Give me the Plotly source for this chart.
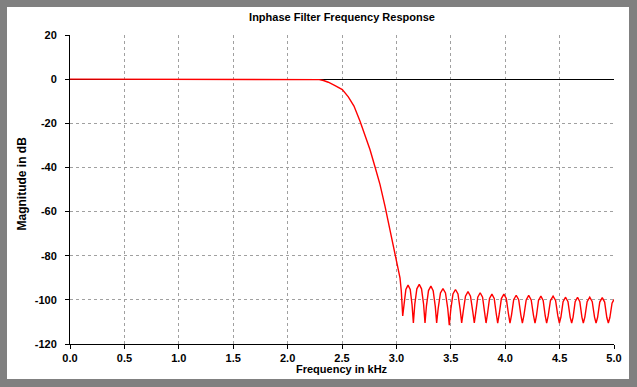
import plotly.graph_objects as go

# Passband + transition band
trans_freq = [0.0, 2.2, 2.252, 2.290, 2.330, 2.374, 2.436, 2.503, 2.558, 2.610, 2.665, 2.711,
              2.757, 2.803, 2.849, 2.895, 2.941, 2.987, 3.008, 3.033, 3.045, 3.058]
trans_db = [0.0, 0.0, 0.0, -0.2, -0.6, -1.4, -2.9, -4.7, -8.0, -12.2, -19.0, -25.1,
            -31.9, -39.7, -47.7, -57.5, -68.9, -78.7, -84.7, -90.0, -96.0, -107.3]

# Stopband ripple
stop_freq = [
    3.070, 3.087, 3.107, 3.127, 3.144, 3.156,
    3.169, 3.188, 3.210, 3.231, 3.250, 3.263,
    3.276, 3.295, 3.317, 3.338, 3.357, 3.370,
    3.384, 3.405, 3.428, 3.451, 3.472, 3.486,
    3.500, 3.520, 3.543, 3.566, 3.586, 3.600,
    3.614, 3.635, 3.658, 3.681, 3.702, 3.716,
    3.729, 3.748, 3.770, 3.792, 3.811, 3.824,
    3.837, 3.856, 3.878, 3.899, 3.918, 3.931,
    3.945, 3.965, 3.988, 4.010, 4.030, 4.044,
    4.058, 4.078, 4.101, 4.124, 4.144, 4.158,
    4.172, 4.193, 4.216, 4.239, 4.260, 4.274,
    4.287, 4.306, 4.328, 4.349, 4.368, 4.381,
    4.395, 4.416, 4.440, 4.463, 4.484, 4.498,
    4.512, 4.532, 4.555, 4.577, 4.597, 4.611,
    4.624, 4.643, 4.665, 4.686, 4.705, 4.718,
    4.732, 4.753, 4.777, 4.800, 4.821, 4.835,
    4.849, 4.869, 4.892, 4.914, 4.934, 4.948,
    4.962, 4.982, 5.000]
stop_db = [
    -102.3, -95.3, -93.3, -95.3, -102.3, -110.5,
    -102.0, -95.0, -93.0, -95.0, -102.0, -110.5,
    -102.8, -95.8, -93.8, -95.8, -102.8, -110.5,
    -103.9, -96.9, -94.9, -96.9, -103.9, -111.5,
    -104.3, -97.3, -95.3, -97.3, -104.3, -110.5,
    -105.3, -98.3, -96.3, -98.3, -105.3, -110.5,
    -105.8, -98.8, -96.8, -98.8, -105.8, -110.5,
    -106.4, -99.4, -97.4, -99.4, -106.4, -110.5,
    -106.4, -99.4, -97.4, -99.4, -106.4, -110.5,
    -106.9, -99.9, -97.9, -99.9, -106.9, -110.5,
    -107.0, -100.0, -98.0, -100.0, -107.0, -110.5,
    -107.3, -100.3, -98.3, -100.3, -107.3, -110.5,
    -107.3, -100.3, -98.3, -100.3, -107.3, -110.5,
    -107.8, -100.8, -98.8, -100.8, -107.8, -110.5,
    -107.8, -100.8, -98.8, -100.8, -107.8, -110.5,
    -107.8, -100.8, -98.8, -100.8, -107.8, -110.5,
    -108.0, -101.0, -99.0, -101.0, -108.0, -110.5,
    -108.0, -101.5, -99.8]

x_ticks = [0.0, 0.5, 1.0, 1.5, 2.0, 2.5, 3.0, 3.5, 4.0, 4.5, 5.0]
y_ticks = [20, 0, -20, -40, -60, -80, -100, -120]

freq = trans_freq + stop_freq
mag = trans_db + stop_db

FONT = "Liberation Sans, Arial, sans-serif"

fig = go.Figure()
fig.add_trace(go.Scatter(x=freq, y=mag, mode="lines",
                         line=dict(color="#ff0000", width=1.4),
                         hoverinfo="skip", showlegend=False))

# white panel on gray frame
L, R, T, B = 70, 23, 35, 43
W, H = 637, 387
pw, ph = W - L - R, H - T - B
fig.add_shape(type="rect", xref="paper", yref="paper",
              x0=(7 - L) / pw, x1=(629 - L) / pw,
              y0=(H - B - 379) / ph, y1=(H - B - 7) / ph,
              fillcolor="white", line_width=0, layer="below")

fig.update_layout(
    width=W, height=H,
    margin=dict(l=L, r=R, t=T, b=B),
    paper_bgcolor="#808080",
    plot_bgcolor="white",
    showlegend=False,
    font=dict(family=FONT, size=11, color="black"),
    title=dict(text="<b>Inphase Filter Frequency Response</b>",
               x=(342 - L) / pw, xref="paper", xanchor="center",
               y=1 - 17.5 / H, yref="container", yanchor="middle",
               font=dict(family=FONT, size=11, color="black")),
    xaxis=dict(range=[0, 5], tickvals=x_ticks,
               ticktext=[f"<b>{v:.1f}</b>" for v in x_ticks],
               showline=True, linecolor="black", linewidth=1,
               ticks="outside", ticklen=4, tickcolor="black",
               showgrid=True, gridcolor="#a0a0a0", gridwidth=1, griddash="3px,3px",
               zeroline=False, tickfont=dict(family=FONT, size=11)),
    yaxis=dict(range=[-120, 20], tickvals=y_ticks,
               ticktext=[f"<b>{v}</b>" for v in y_ticks],
               showline=True, linecolor="black", linewidth=1,
               ticks="outside", ticklen=4, tickcolor="black",
               ticklabelstandoff=6,
               showgrid=True, gridcolor="#a0a0a0", gridwidth=1, griddash="3px,3px",
               zeroline=True, zerolinecolor="black", zerolinewidth=1,
               tickfont=dict(family=FONT, size=11)),
    annotations=[
        dict(text="<b>Frequency in kHz</b>", xref="paper", yref="paper",
             x=(342 - L) / pw, y=(H - B - 369) / ph, xanchor="center", yanchor="middle",
             showarrow=False, font=dict(family=FONT, size=11)),
        dict(text="<b>Magnitude in dB</b>", xref="paper", yref="paper",
             x=(21 - L) / pw, y=(H - B - 183.5) / ph, xanchor="center", yanchor="middle",
             textangle=-90, showarrow=False, font=dict(family=FONT, size=12)),
    ],
)

fig.write_html("out.html", config={"displayModeBar": False},
               post_script="document.body.style.margin='0';document.body.style.background='#808080';")
